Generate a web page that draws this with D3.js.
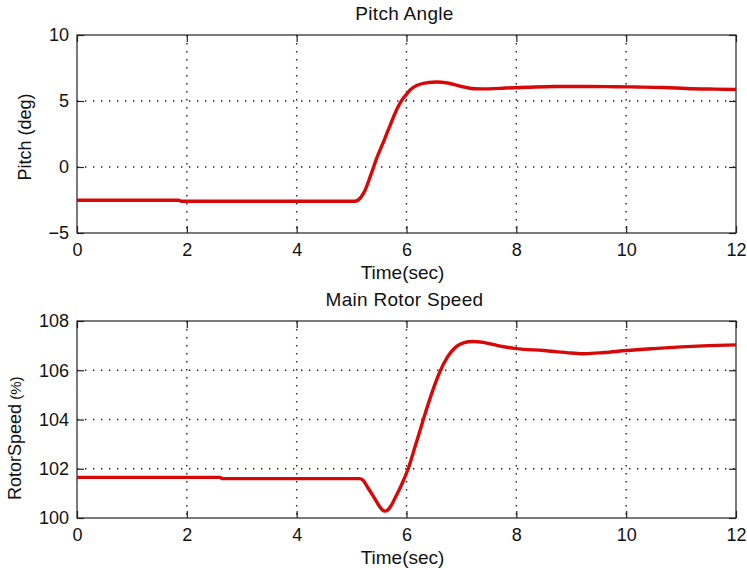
<!DOCTYPE html>
<html>
<head>
<meta charset="utf-8">
<script src="https://cdn.jsdelivr.net/npm/d3@7"></script>
<style>
  html, body { margin: 0; padding: 0; background: #fff; }
  svg { display: block; font-family: "Liberation Sans", Arial, Helvetica, sans-serif; }
</style>
</head>
<body>
<svg id="chart" width="747" height="570"></svg>
<script>
// values
const xTicks = [0, 2, 4, 6, 8, 10, 12];
const pitchTicks = [-5, 0, 5, 10];
const speedTicks = [100, 102, 104, 106, 108];

const pitchTime = [0, 1.85, 1.9, 5.05, 5.12, 5.23, 5.35, 5.47, 5.6, 5.72, 5.84, 5.93, 6.0, 6.07, 6.2, 6.4, 6.55, 6.75, 7.0, 7.22, 7.5, 7.8, 8.2, 8.7, 9.3, 9.8, 10.2, 10.7, 11.1, 11.6, 12];
const pitchDeg = [-2.52, -2.52, -2.6, -2.6, -2.5, -1.9, -0.6, 0.8, 2.1, 3.35, 4.5, 5.15, 5.5, 5.85, 6.2, 6.4, 6.44, 6.36, 6.1, 5.93, 5.92, 5.98, 6.04, 6.1, 6.1, 6.08, 6.06, 6.02, 5.95, 5.9, 5.87];

const speedTime = [0, 2.6, 2.65, 5.15, 5.2, 5.3, 5.4, 5.5, 5.56, 5.61, 5.66, 5.72, 5.8, 5.9, 6.03, 6.15, 6.3, 6.45, 6.6, 6.75, 6.9, 7.05, 7.2, 7.4, 7.66, 8.0, 8.5, 9.0, 9.25, 9.6, 10, 10.5, 11, 11.5, 12];
const speedPct = [101.65, 101.65, 101.6, 101.6, 101.55, 101.22, 100.87, 100.5, 100.33, 100.28, 100.33, 100.5, 100.85, 101.3, 102.0, 102.85, 103.95, 105.0, 105.9, 106.55, 106.95, 107.12, 107.17, 107.13, 107.0, 106.88, 106.8, 106.7, 106.67, 106.72, 106.8, 106.88, 106.95, 107.0, 107.03];

const svg = d3.select("#chart");
const left = 77, right = 736;
const lineColor = "#d90808";

function drawPanel(opt) {
  const x = d3.scaleLinear().domain([0, 12]).range([left, right]);
  const y = d3.scaleLinear().domain(opt.yDomain).range([opt.bottom, opt.top]);
  const g = svg.append("g");

  // dotted grid
  g.append("g")
    .selectAll("line")
    .data(xTicks.slice(1, -1))
    .enter()
    .append("line")
    .attr("x1", (d) => x(d))
    .attr("x2", (d) => x(d))
    .attr("y1", opt.top)
    .attr("y2", opt.bottom)
    .attr("stroke", "#222")
    .attr("stroke-width", 1.4)
    .attr("stroke-dasharray", "1.4,6.6");

  g.append("g")
    .selectAll("line")
    .data(opt.yTicks.slice(1, -1))
    .enter()
    .append("line")
    .attr("x1", left)
    .attr("x2", right)
    .attr("y1", (d) => y(d))
    .attr("y2", (d) => y(d))
    .attr("stroke", "#222")
    .attr("stroke-width", 1.4)
    .attr("stroke-dasharray", "1.4,6.6");

  // axes with inward ticks
  const bottomAxis = d3.axisBottom(x).tickValues(xTicks).tickSizeInner(-7).tickSizeOuter(0).tickPadding(10);
  const topAxis = d3.axisTop(x).tickValues(xTicks).tickSizeInner(-7).tickSizeOuter(0).tickFormat("");
  const leftAxis = d3.axisLeft(y).tickValues(opt.yTicks).tickSizeInner(-7).tickSizeOuter(0).tickPadding(8);
  const rightAxis = d3.axisRight(y).tickValues(opt.yTicks).tickSizeInner(-7).tickSizeOuter(0).tickFormat("");

  const axes = [
    [bottomAxis, `translate(0,${opt.bottom})`],
    [topAxis, `translate(0,${opt.top})`],
    [leftAxis, `translate(${left},0)`],
    [rightAxis, `translate(${right},0)`],
  ];
  axes.forEach(([axis, tr]) => {
    const a = g.append("g").attr("transform", tr).call(axis);
    a.attr("font-family", null).attr("font-size", null);
    a.select(".domain").remove();
    a.selectAll(".tick line").attr("stroke", "#222").attr("stroke-width", 1.2);
    a.selectAll(".tick text").attr("fill", "#111").style("font-size", "18px");
  });

  // box
  g.append("rect")
    .attr("x", left)
    .attr("y", opt.top)
    .attr("width", right - left)
    .attr("height", opt.bottom - opt.top)
    .attr("fill", "none")
    .attr("stroke", "#222")
    .attr("stroke-width", 1.2);

  // curve
  const line = d3
    .line()
    .x((d) => x(d[0]))
    .y((d) => y(d[1]))
    .curve(d3.curveMonotoneX);

  g.append("path")
    .datum(d3.zip(opt.time, opt.values))
    .attr("d", line)
    .attr("fill", "none")
    .attr("stroke", lineColor)
    .attr("stroke-width", 3.4)
    .attr("stroke-linejoin", "round");

  // title and labels
  g.append("text")
    .attr("x", (left + right) / 2 - 2)
    .attr("y", opt.top - 15)
    .attr("text-anchor", "middle")
    .style("font-size", "19px")
    .style("letter-spacing", "0.3px")
    .attr("fill", "#111")
    .text(opt.title);

  g.append("text")
    .attr("x", (left + right) / 2 - 4)
    .attr("y", opt.bottom + 46)
    .attr("text-anchor", "middle")
    .style("font-size", "19px")
    .attr("fill", "#111")
    .text("Time(sec)");

  opt.yLabel(g);
}

drawPanel({
  top: 35,
  bottom: 233,
  yDomain: [-5, 10],
  yTicks: pitchTicks,
  time: pitchTime,
  values: pitchDeg,
  title: "Pitch Angle",
  yLabel: (g) =>
    g
      .append("text")
      .attr("transform", "translate(31,137) rotate(-90)")
      .attr("text-anchor", "middle")
      .style("font-size", "18px")
      .attr("fill", "#111")
      .text("Pitch (deg)"),
});

drawPanel({
  top: 321,
  bottom: 518,
  yDomain: [100, 108],
  yTicks: speedTicks,
  time: speedTime,
  values: speedPct,
  title: "Main Rotor Speed",
  yLabel: (g) => {
    const t = g
      .append("text")
      .attr("transform", "translate(21,500) rotate(-90)")
      .attr("text-anchor", "start")
      .attr("fill", "#111");
    t.append("tspan").style("font-size", "18px").text("RotorSpeed");
    t.append("tspan").style("font-size", "15px").text(" (%)");
  },
});
</script>
</body>
</html>
